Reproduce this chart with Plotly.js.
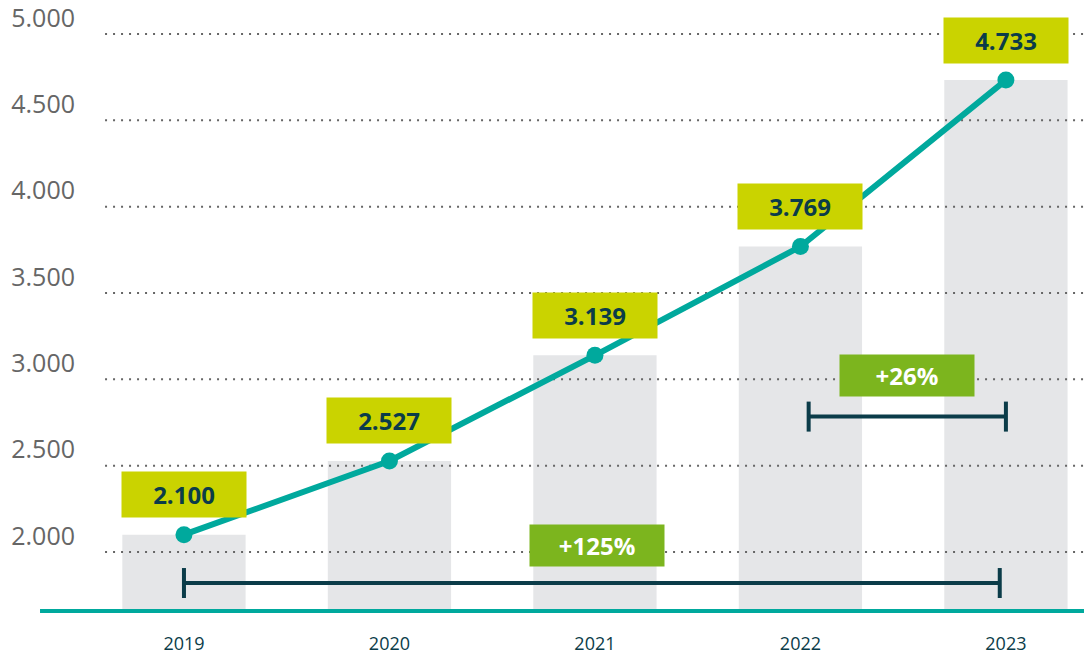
<!DOCTYPE html>
<html>
<head>
<meta charset="utf-8">
<script src="https://cdn.plot.ly/plotly-3.0.1.min.js"></script>
<style>html,body{margin:0;padding:0;background:#fff;}#chart{width:1084px;height:654px;}</style>
</head>
<body>
<div id="chart"></div>
<script>
// ---- data ----
const years = ['2019', '2020', '2021', '2022', '2023'];
const values = [2100, 2527, 3139, 3769, 4733];
const valueLabels = ['2.100', '2.527', '3.139', '3.769', '4.733'];
const yTickVals = [2000, 2500, 3000, 3500, 4000, 4500, 5000];
const yTickText = ['2.000', '2.500', '3.000', '3.500', '4.000', '4.500', '5.000'];

// ---- styling / layout constants ----
const idx = years.map((_, i) => i);
const xRange = [-0.394, 4.38];
const yRange = [1658, 5197];
const teal = '#00a99d';
const dark = '#0b3c49';
const lime = '#cad300';
const green = '#7cb51e';

function pct(a, b) { return '+' + Math.round((b / a - 1) * 100) + '%'; }

const traces = [];
traces.push({
  type: 'bar', x: idx, y: values, width: 0.6,
  marker: { color: '#e5e6e8' }, hoverinfo: 'skip', showlegend: false
});
// dotted grid lines, drawn above the bars
yTickVals.forEach(v => {
  traces.push({
    type: 'scatter', mode: 'lines', x: [xRange[0] + 0.01, xRange[1]], y: [v, v],
    line: { color: '#666666', width: 2, dash: '2px,6px' },
    hoverinfo: 'skip', showlegend: false, cliponaxis: false
  });
});
traces.push({
  type: 'scatter', mode: 'lines+markers', x: idx, y: values,
  line: { color: teal, width: 6 },
  marker: { color: teal, size: 17 },
  showlegend: false, cliponaxis: false
});

const last = values.length - 1;
const brackets = [
  { x0: 0, x1: 3.97, y: 1820, label: pct(values[0], values[last]), lx: 2.01, shift: 38 },
  { x0: 3.04, x1: 4.0, y: 2784, label: pct(values[last - 1], values[last]), lx: 3.52, shift: 41 }
];

const shapes = [{
  type: 'line', xref: 'paper', yref: 'paper', x0: -0.0642, x1: 1, y0: 0, y1: 0,
  line: { color: teal, width: 4 }, layer: 'above'
}];
brackets.forEach(b => {
  shapes.push({ type: 'line', xref: 'x', yref: 'y', x0: b.x0, x1: b.x1, y0: b.y, y1: b.y,
    line: { color: dark, width: 4 }, layer: 'above' });
  [b.x0, b.x1].forEach(xx => {
    shapes.push({ type: 'line', xref: 'x', yref: 'y', ysizemode: 'pixel', yanchor: b.y,
      x0: xx, x1: xx, y0: -15, y1: 15, line: { color: dark, width: 4 }, layer: 'above' });
  });
});

const annotations = [];
values.forEach((v, i) => {
  annotations.push({
    x: i, y: v, xref: 'x', yref: 'y', yshift: 40, showarrow: false,
    text: '<b>' + valueLabels[i] + '</b>',
    font: { family: 'Open Sans', size: 24, color: dark },
    bgcolor: lime, width: 118, height: 39, borderpad: 3
  });
});
brackets.forEach(b => {
  annotations.push({
    x: b.lx, y: b.y, xref: 'x', yref: 'y', yshift: b.shift, showarrow: false,
    text: '<b>' + b.label + '</b>',
    font: { family: 'Open Sans', size: 24, color: '#ffffff' },
    bgcolor: green, width: 128, height: 35, borderpad: 3
  });
});

const layout = {
  width: 1084, height: 654,
  margin: { l: 103, r: 0, t: 0, b: 43, pad: 0 },
  paper_bgcolor: '#ffffff', plot_bgcolor: '#ffffff',
  showlegend: false,
  bargap: 0.4,
  xaxis: {
    type: 'linear', range: xRange, tickvals: idx, ticktext: years,
    showgrid: false, zeroline: false, showline: false, ticks: '',
    tickfont: { family: 'Open Sans', size: 18, color: dark },
    ticklabelstandoff: 20, fixedrange: true
  },
  yaxis: {
    range: yRange, tickvals: yTickVals, ticktext: yTickText,
    showgrid: false, zeroline: false, showline: false, ticks: '',
    tickfont: { family: 'Open Sans', size: 25, color: '#666666' },
    ticklabelstandoff: 27, ticklabelshift: -16, ticklabeloverflow: 'allow',
    fixedrange: true
  },
  shapes: shapes,
  annotations: annotations
};

Plotly.newPlot('chart', traces, layout, { displayModeBar: false, staticPlot: true });
</script>
</body>
</html>
